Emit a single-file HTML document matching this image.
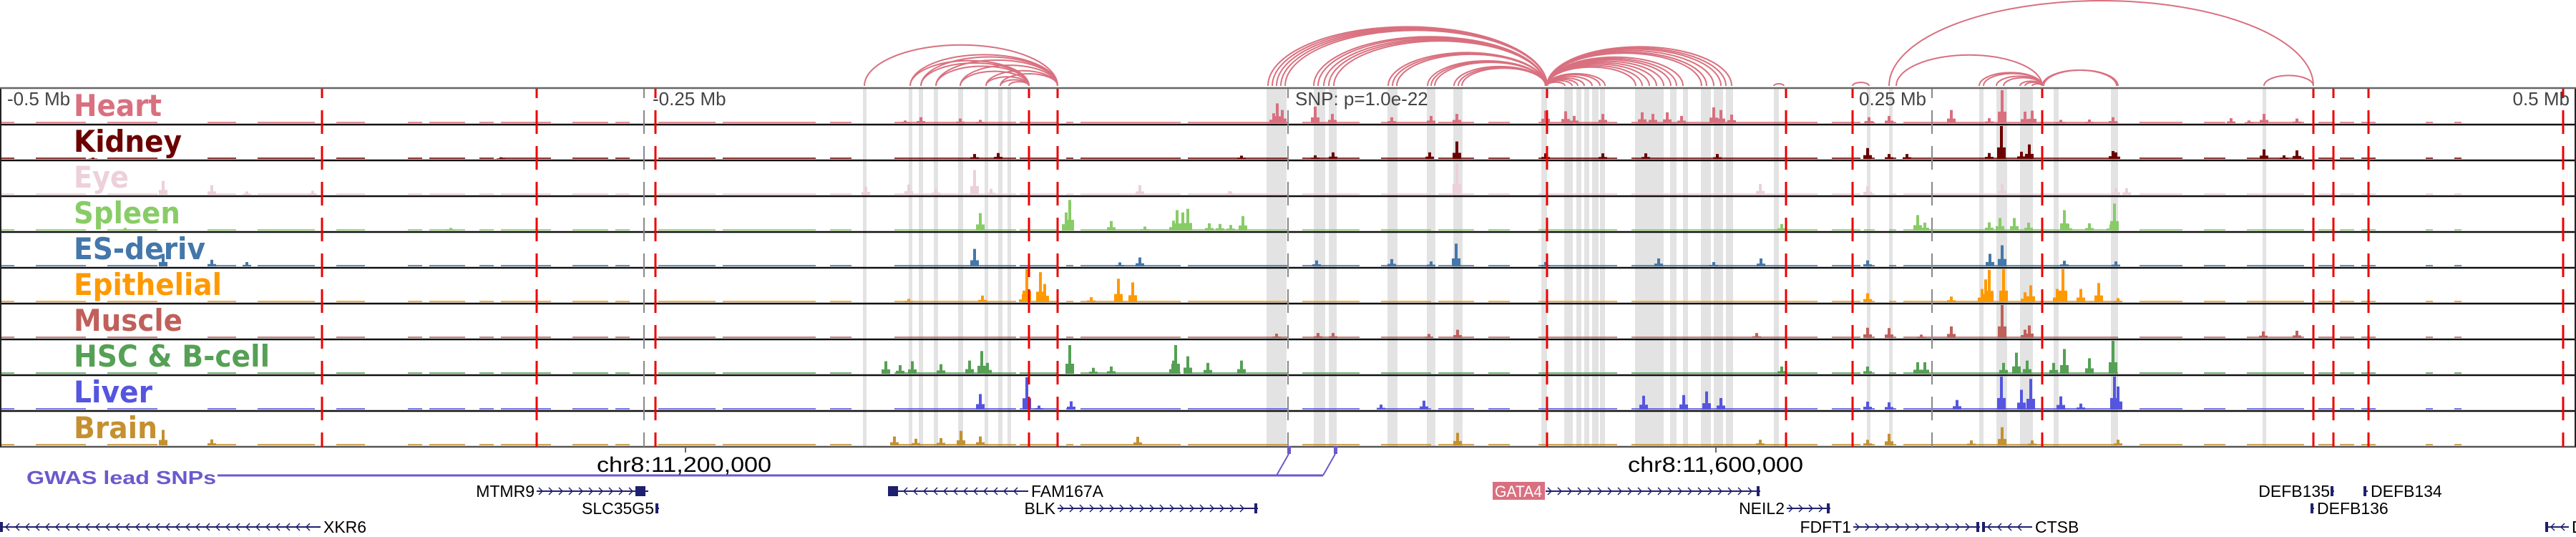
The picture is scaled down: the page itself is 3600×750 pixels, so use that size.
<!DOCTYPE html>
<html><head><meta charset="utf-8"><title>Genome browser</title>
<style>
html,body{margin:0;padding:0;background:#fff;}
svg{display:block;}
text{font-family:"Liberation Sans","DejaVu Sans",sans-serif;}
</style></head>
<body>
<svg id="chart" width="3600" height="750" viewBox="0 0 3600 750" xmlns="http://www.w3.org/2000/svg">
<g id="bands"></g>
<g id="arcs"></g>
<g id="tracks"></g>
<g id="vlines"></g>
<g id="labels"></g>
<g id="axis">
  <text x="10" y="147" font-size="26" fill="#444">-0.5 Mb</text>
  <text x="912" y="147" font-size="26" fill="#444">-0.25 Mb</text>
  <text x="1810" y="147" font-size="26" fill="#444">SNP: p=1.0e-22</text>
  <text x="2692" y="147" font-size="26" fill="#444" text-anchor="end">0.25 Mb</text>
  <text x="3591" y="147" font-size="26" fill="#444" text-anchor="end">0.5 Mb</text>
  <line x1="958" y1="624" x2="958" y2="632" stroke="#666" stroke-width="2"/>
  <line x1="2398" y1="624" x2="2398" y2="632" stroke="#666" stroke-width="2"/>
  <text x="834" y="659" font-size="30" fill="#000" textLength="244" lengthAdjust="spacingAndGlyphs">chr8:11,200,000</text>
  <text x="2275" y="659" font-size="30" fill="#000" textLength="245" lengthAdjust="spacingAndGlyphs">chr8:11,600,000</text>
</g>
<g id="gwas">
  <text x="37" y="676" font-size="26" font-weight="bold" fill="#6a5acd" textLength="265" lengthAdjust="spacingAndGlyphs">GWAS lead SNPs</text>
  <line x1="304" y1="664" x2="1849" y2="664" stroke="#6a5acd" stroke-width="3"/>
  <line x1="1784" y1="664" x2="1801" y2="634" stroke="#6a5acd" stroke-width="2"/>
  <line x1="1849" y1="664" x2="1866" y2="634" stroke="#6a5acd" stroke-width="2"/>
  <rect x="1799" y="623" width="5" height="11" fill="#6a5acd"/>
  <rect x="1864" y="623" width="5" height="11" fill="#6a5acd"/>
</g>
<g id="genes"></g>
</svg>
<script>
// ---------- data ----------
// positions are genomic bin indices (0..3600 across the 1 Mb window), values are signal (0..100)
const binCount = 3600;
const trackNames = ["Heart","Kidney","Eye","Spleen","ES-deriv","Epithelial","Muscle","HSC & B-cell","Liver","Brain"];
const trackColors = ["#d9707f","#6b0000","#ecd0da","#88cc66","#4477aa","#ff9900","#c0605a","#55a055","#5555e0","#c49030"];
const heartPeaks = [[1265,8],[1287,18],[1342,14],[1370,10],[1780,30],[1785,60],[1792,40],[1838,50],[1862,28],[1945,18],[2000,22],[2036,28],[2160,38],[2188,36],[2200,22],[2240,28],[2295,33],[2310,28],[2330,33],[2350,22],[2395,48],[2405,40],[2420,26],[2612,18],[2640,22],[2727,40],[2780,15],[2798,100],[2830,35],[2840,38],[2880,10],[2920,11],[2953,18],[3118,15],[3143,8],[3164,28],[3210,14]];
const kidneyPeaks = [[130,4],[700,5],[1362,15],[1395,18],[1735,10],[1838,11],[1863,20],[1998,20],[2036,53],[2160,17],[2240,17],[2300,17],[2400,15],[2610,33],[2640,15],[2665,15],[2780,18],[2797,100],[2825,22],[2836,44],[2953,24],[2957,20],[3164,29],[3192,11],[3210,26]];
const eyePeaks = [[228,42],[296,29],[345,10],[437,12],[1210,24],[1270,31],[1308,18],[1362,75],[1385,18],[1593,29],[1718,11],[1720,10],[2036,95],[2460,33],[2610,26],[2798,33],[2957,20],[2972,20]];
const spleenPeaks = [[175,8],[630,8],[1370,53],[1490,55],[1495,93],[1553,29],[1600,12],[1640,30],[1645,62],[1653,55],[1660,66],[1690,22],[1705,20],[1720,17],[1737,44],[2490,20],[2680,47],[2690,24],[2780,25],[2795,38],[2815,38],[2835,24],[2885,62],[2890,20],[2920,22],[2950,18],[2955,82]];
const esPeaks = [[228,38],[296,20],[345,13],[1362,53],[1565,12],[1593,27],[1840,18],[1945,22],[2000,15],[2035,69],[2160,13],[2318,24],[2395,13],[2461,24],[2610,18],[2781,38],[2798,64],[2885,17],[2957,15]];
const epithelialPeaks = [[1270,10],[1373,20],[1430,24],[1435,100],[1454,91],[1460,55],[1525,15],[1563,71],[1583,60],[2610,27],[2727,17],[2770,40],[2775,69],[2780,98],[2800,100],[2830,30],[2838,51],[2875,40],[2883,100],[2908,40],[2933,58],[2960,12]];
const musclePeaks = [[1784,13],[1842,15],[1863,15],[1997,12],[2037,25],[2455,15],[2610,31],[2640,30],[2685,10],[2727,35],[2798,100],[2830,25],[2836,38],[3163,20],[3210,22]];
const hscPeaks = [[1238,38],[1258,26],[1275,38],[1315,29],[1355,40],[1372,69],[1380,33],[1495,87],[1528,18],[1553,22],[1640,40],[1643,87],[1660,53],[1688,33],[1735,40],[2490,22],[2610,22],[2680,35],[2690,35],[2800,33],[2818,64],[2833,40],[2870,33],[2885,75],[2920,47],[2953,100]];
const liverPeaks = [[1370,47],[1435,98],[1452,12],[1497,25],[1930,15],[1990,27],[2297,42],[2353,44],[2385,55],[2405,35],[2610,24],[2640,22],[2735,29],[2797,100],[2825,60],[2838,93],[2880,40],[2908,18],[2955,100],[2960,70]];
const brainPeaks = [[228,47],[296,18],[1250,27],[1280,20],[1315,22],[1343,44],[1370,27],[1590,26],[2037,38],[2460,17],[2610,17],[2640,35],[2755,15],[2798,55],[2840,15],[2960,17]];
const allPeaks = [heartPeaks,kidneyPeaks,eyePeaks,spleenPeaks,esPeaks,epithelialPeaks,musclePeaks,hscPeaks,liverPeaks,brainPeaks];
// low background signal coverage (bin intervals)
const coverage = [[0,20],[50,120],[150,220],[290,330],[360,440],[470,510],[570,590],[600,650],[670,690],[700,770],[800,850],[860,880],[920,1000],[1010,1140],[1160,1190],[1250,1420],[1425,1478],[1490,1500],[1510,1650],[1660,1800],[1820,1900],[1930,2000],[2010,2060],[2080,2110],[2150,2260],[2280,2540],[2560,2600],[2605,2620],[2640,2650],[2660,2960],[2990,3050],[3080,3110],[3140,3220],[3240,3260],[3270,3290],[3300,3320],[3390,3400],[3430,3440]];
// highlighted regions (bin intervals)
const bands = [[1206,1211],[1270,1275],[1284,1290],[1305,1311],[1339,1346],[1376,1381],[1395,1401],[1408,1413],[1770,1798],[1836,1852],[1857,1868],[1939,1953],[1994,2006],[2031,2044],[2154,2162],[2186,2198],[2203,2210],[2214,2221],[2225,2234],[2236,2243],[2285,2325],[2334,2343],[2352,2359],[2377,2391],[2395,2408],[2412,2422],[2479,2486],[2609,2614],[2640,2645],[2766,2772],[2790,2805],[2823,2841],[2870,2877],[2950,2960],[3162,3167]];
const redMarkers = [450,750,916,1438,1478,2162,2496,2589,2854,3233,3261,3310,3582];
const grayMarkers = [900,1800,2700];
// interaction arcs: [start bin, end bin]
const arcStarts = [1208,1272,1272,1287,1287,1308,1308,1342,1342,1378,1398,1410,1378,1398,1772,1778,1784,1790,1796,1836,1842,1850,1857,1864,1940,1946,1952,1995,2000,2005,2032,2038,2043,2162,2162,2162,2162,2162,2162,2162,2162,2162,2162,2162,2162,2162,2162,2162,2162,2162,2162,2162,2162,2162,2479,2589,2640,2650,2766,2772,2790,2800,2823,2830,2840,2854,2856,3164];
const arcEnds   = [1478,1438,1478,1438,1478,1438,1478,1438,1478,1438,1438,1438,1478,1478,2162,2162,2162,2162,2162,2160,2160,2160,2160,2160,2160,2160,2160,2160,2160,2160,2160,2160,2160,2286,2295,2305,2315,2325,2335,2343,2352,2378,2385,2395,2405,2412,2420,2187,2197,2205,2214,2225,2236,2243,2493,2612,3233,2854,2854,2854,2854,2854,2854,2854,2854,2958,2960,3233];

// ---------- scales ----------
const NS = "http://www.w3.org/2000/svg";
const plotLeft = 0, plotRight = 3600, trackTop = 124, trackH = 50, arcBase = 120;
function xScale(b){ return plotLeft + b * (plotRight - plotLeft) / binCount; }
function hScale(v){ return v * 46 / 100; }
function mk(tag, attrs, parent){ const e = document.createElementNS(NS, tag); for (const k in attrs) e.setAttribute(k, attrs[k]); parent.appendChild(e); return e; }

// bands
const gB = document.getElementById("bands");
bands.forEach(function(b){
  const r = mk("rect", {x:xScale(b[0]), y:trackTop, width:xScale(b[1])-xScale(b[0]), height:trackH*10, fill:"#e3e3e3"}, gB);
  
  
});

// arcs
const gA = document.getElementById("arcs");
arcStarts.forEach(function(s, i){
  const x1 = xScale(s), x2 = xScale(arcEnds[i]);
  const h = Math.min(119, (x2 - x1) * 0.212);
  const p = mk("path", {d:"M"+x1+" "+arcBase+" A"+((x2-x1)/2)+" "+h+" 0 0 1 "+x2+" "+arcBase, fill:"none", stroke:"#d9707f", "stroke-width":2}, gA);
  
  
});

// tracks
const gT = document.getElementById("tracks");
trackNames.forEach(function(name, t){
  const top = trackTop + t*trackH, base = top + trackH - 2;
  const g = mk("g", {}, gT);
  
  
  const col = trackColors[t];
  coverage.forEach(function(c){
    const r = mk("rect", {x:xScale(c[0]), y:base-2, width:xScale(c[1])-xScale(c[0]), height:2, fill:col, opacity:0.8}, g);
    
    
  });
  allPeaks[t].forEach(function(p){
    const x = xScale(p[0]), h = hScale(p[1]);
    const sh = mk("rect", {x:x-6, y:base-h*0.35, width:12, height:h*0.35, fill:col}, g);
    
    
    const r = mk("rect", {x:x-2, y:base-h, width:4, height:h, fill:col}, g);
    
    
  });
  const ln = mk("line", {x1:0, y1:top+trackH, x2:3600, y2:top+trackH, stroke: t===9 ? "#555" : "#111", "stroke-width":2.5}, gT);
  
  
});
const topLine = mk("line", {x1:0, y1:trackTop-1, x2:3600, y2:trackTop-1, stroke:"#666", "stroke-width":2.5}, gT);


const leftLine = mk("line", {x1:1, y1:trackTop, x2:1, y2:trackTop+trackH*10, stroke:"#222", "stroke-width":2}, gT);


const rightLine = mk("line", {x1:3599, y1:trackTop, x2:3599, y2:trackTop+trackH*10, stroke:"#222", "stroke-width":2}, gT);



// marker lines (dashed segments centred on track borders)
const gV = document.getElementById("vlines");
function dashed(b, col, w, name){
  const x = xScale(b);
  for (let k = 0; k <= 10; k++){
    const y1 = Math.max(trackTop, 104 + 50*k), y2 = Math.min(trackTop + trackH*10, 137 + 50*k);
    if (y2 <= y1) continue;
    const l = mk("line", {x1:x, y1:y1, x2:x, y2:y2, stroke:col, "stroke-width":w}, gV);
    
    
  }
}
grayMarkers.forEach(function(b){ dashed(b, "#888", 2, "scale-marker-line"); });
redMarkers.forEach(function(b){ dashed(b, "#ee0000", 3, "snp-marker-line"); });

// labels
const labelWidths = [123,151,77,149,184,207,152,274,110,117];
const gL = document.getElementById("labels");
trackNames.forEach(function(name, t){
  const tx = mk("text", {x:103, y:trackTop + t*trackH + 38, "font-size":42, "font-weight":"bold", fill:trackColors[t], textLength:labelWidths[t], lengthAdjust:"spacingAndGlyphs", style:"font-family:'DejaVu Sans','Liberation Sans',sans-serif"}, gL);
  tx.textContent = name;
  
  
});

// genes
const gG = document.getElementById("genes");
const geneNames = ["MTMR9","SLC35G5","FAM167A","BLK","XKR6","GATA4","NEIL2","FDFT1","CTSB","DEFB135","DEFB134","DEFB136","D"];
const geneStarts = [750,917,1241,1478,0,2160,2497,2590,2770,3259,3303,3231,3557];
const geneEnds   = [906,921,1437,1758,448,2460,2558,2767,2840,3262,3309,3234,3590];
const geneRows   = [0,1,0,1,2,0,1,2,2,0,0,1,2];
const geneStrand = [1,0,-1,1,-1,1,1,1,-1,0,-1,0,-1];
const geneLabelSide = [-1,-1,1,-1,1,-1,-1,-1,1,-1,1,1,1];
const rowY = [686,710,736];
geneNames.forEach(function(n, i){
  const g = mk("g", {}, gG);
  
  
  const x1 = xScale(geneStarts[i]), x2 = xScale(geneEnds[i]), y = rowY[geneRows[i]];
  const line = mk("line", {x1:x1, y1:y, x2:x2, y2:y, stroke:"#1f1f70", "stroke-width":2}, g);
  
  
  if (geneStrand[i] !== 0){
    for (let x = x1 + 8; x < x2 - 6; x += 14){
      const d = geneStrand[i] * 5;
      const c = mk("polyline", {points:(x-d)+","+(y-5)+" "+x+","+y+" "+(x-d)+","+(y+5), fill:"none", stroke:"#1f1f70", "stroke-width":1.5}, g);
      
      
    }
  }
  const ex = mk("rect", {x: geneStrand[i] < 0 ? x1 : x2 - 5, y:y-7, width: (n==="MTMR9"||n==="FAM167A") ? 14 : 4, height:14, fill:"#1f1f70"}, g);
  if (n==="MTMR9") ex.setAttribute("x", x2-18);
  
  
  if (n === "GATA4"){
    const bx = mk("rect", {x:2086, y:673, width:73, height:25, fill:"#d9707f"}, g);
    
    
    const t = mk("text", {x:2122, y:694, "font-size":22, fill:"#fff", "text-anchor":"middle", textLength:66, lengthAdjust:"spacingAndGlyphs"}, g);
    t.textContent = n;
    
    
    return;
  }
  const side = geneLabelSide[i];
  const t = mk("text", {x: side < 0 ? x1 - 3 : x2 + 4, y:y+8, "font-size":23, fill:"#000", "text-anchor": side < 0 ? "end" : "start"}, g);
  t.textContent = n;
  
  
});
</script>
</body></html>
